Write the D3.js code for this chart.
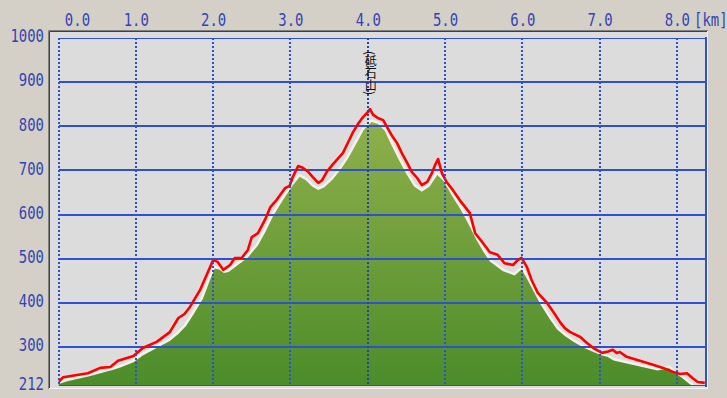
<!DOCTYPE html>
<html>
<head>
<meta charset="utf-8">
<script src="https://cdn.jsdelivr.net/npm/d3@7"></script>
<style>
  body { margin: 0; background: #d4d0c8; }
  svg { display: block; }
</style>
</head>
<body>
<div id="profile"></div>
<script>
// GPS track elevation (red line): distance in km, elevation in m
var trackKm = [0.00, 0.06, 0.24, 0.38, 0.54, 0.67, 0.77, 0.97, 1.09, 1.27,
  1.44, 1.55, 1.63, 1.70, 1.83, 1.96, 2.00, 2.06, 2.13, 2.22,
  2.28, 2.37, 2.45, 2.50, 2.58, 2.67, 2.74, 2.82, 2.93, 2.99,
  3.03, 3.10, 3.16, 3.23, 3.29, 3.36, 3.41, 3.47, 3.54, 3.60,
  3.68, 3.75, 3.81, 3.88, 3.94, 4.00, 4.03, 4.07, 4.13, 4.20,
  4.25, 4.31, 4.38, 4.44, 4.51, 4.57, 4.64, 4.70, 4.77, 4.83,
  4.87, 4.91, 4.96, 5.02, 5.10, 5.19, 5.32, 5.39, 5.49, 5.58,
  5.68, 5.77, 5.88, 5.94, 5.99, 6.06, 6.12, 6.20, 6.32, 6.40,
  6.49, 6.55, 6.62, 6.75, 6.84, 6.92, 7.03, 7.11, 7.17, 7.22,
  7.26, 7.35, 7.52, 7.69, 7.82, 7.95, 8.04, 8.13, 8.20, 8.27, 8.36];
var trackElev = [221, 232, 237, 241, 253, 255, 269, 280, 298, 312,
  334, 366, 375, 391, 429, 481, 497, 493, 475, 486,
  502, 502, 520, 549, 558, 588, 617, 633, 660, 665,
  685, 710, 706, 697, 685, 672, 678, 697, 712, 724,
  740, 765, 787, 807, 821, 832, 839, 826, 819, 814,
  798, 780, 762, 740, 717, 697, 683, 667, 674, 694,
  712, 726, 694, 674, 656, 633, 604, 558, 536, 515,
  509, 490, 486, 497, 502, 481, 452, 423, 400, 380,
  356, 343, 334, 323, 309, 298, 287, 290, 294, 287,
  289, 278, 269, 260, 253, 244, 239, 241, 230, 221, 219];

// terrain elevation (green area)
var groundKm = [0.00, 0.10, 0.24, 0.40, 0.54, 0.70, 0.80, 0.97, 1.09, 1.27,
  1.44, 1.55, 1.65, 1.75, 1.87, 1.96, 2.02, 2.08, 2.14, 2.20,
  2.30, 2.45, 2.58, 2.68, 2.78, 2.90, 3.02, 3.12, 3.20, 3.28,
  3.36, 3.44, 3.55, 3.65, 3.75, 3.85, 3.95, 4.05, 4.13, 4.22,
  4.30, 4.40, 4.50, 4.60, 4.70, 4.80, 4.90, 4.98, 5.10, 5.20,
  5.30, 5.40, 5.50, 5.58, 5.75, 5.90, 5.99, 6.06, 6.15, 6.23,
  6.35, 6.45, 6.55, 6.66, 6.80, 6.92, 7.03, 7.10, 7.18, 7.35,
  7.55, 7.75, 7.90, 7.98, 8.06, 8.15, 8.20];
var groundElev = [216, 222, 228, 234, 241, 248, 254, 266, 281, 298,
  314, 330, 348, 375, 410, 452, 478, 476, 468, 470,
  483, 503, 530, 562, 598, 632, 664, 686, 678, 664,
  656, 662, 680, 702, 728, 760, 792, 810, 806, 790,
  760, 725, 692, 664, 652, 664, 690, 676, 640, 612,
  580, 545, 515, 494, 472, 462, 476, 455, 425, 398,
  365, 340, 325, 312, 298, 289, 281, 278, 270, 263,
  255, 247, 252, 240, 231, 218, 212];

var yTicks = [212, 300, 400, 500, 600, 700, 800, 900, 1000];
var xTicks = [0, 1, 2, 3, 4, 5, 6, 7, 8];

// named point on the route
var pointKm = [4.0];
var pointNames = ["(砥石山)"];

var svgWidth = 727;
var svgHeight = 398;

var plot = { left: 58.5, right: 706, top: 38, bottom: 386 };

var gridColor = "#3050d4";
var textColor = "#3343b3";

var svg = d3.select("#profile")
  .append("svg")
  .attr("width", svgWidth)
  .attr("height", svgHeight);

var xScale = d3.scaleLinear()
  .domain([0, 8.376])
  .range([plot.left, plot.right]);

var yScale = d3.scaleLinear()
  .domain([212, 1000])
  .range([plot.bottom, plot.top]);

// sunken panel
svg.append("rect")
  .attr("x", 49)
  .attr("y", 31)
  .attr("width", 659)
  .attr("height", 358)
  .attr("fill", "#dcdcdc");

svg.append("path")
  .attr("d", "M48.5,389V30.5H708")
  .attr("fill", "none")
  .attr("stroke", "#808080");
svg.append("path")
  .attr("d", "M49.5,388V31.5H707")
  .attr("fill", "none")
  .attr("stroke", "#404040");
svg.append("path")
  .attr("d", "M707.5,31V388.5H49")
  .attr("fill", "none")
  .attr("stroke", "#f4f4f4");

var defs = svg.append("defs");

defs.append("clipPath")
  .attr("id", "plotClip")
  .append("rect")
  .attr("x", plot.left)
  .attr("y", plot.top)
  .attr("width", plot.right - plot.left)
  .attr("height", plot.bottom - plot.top);

var grad = defs.append("linearGradient")
  .attr("id", "greenFill")
  .attr("gradientUnits", "userSpaceOnUse")
  .attr("x1", 0).attr("y1", 120)
  .attr("x2", 0).attr("y2", plot.bottom);
grad.append("stop").attr("offset", 0).attr("stop-color", "#8fb04b");
grad.append("stop").attr("offset", 1).attr("stop-color", "#4c8c2a");

var chartGroup = svg.append("g")
  .attr("clip-path", "url(#plotClip)");

var ground = groundKm.map(function(d, i) { return [d, groundElev[i]]; });
var track = trackKm.map(function(d, i) { return [d, trackElev[i]]; });

var profileLine = d3.line()
  .x(d => xScale(d[0]))
  .y(d => yScale(d[1]));

var groundArea = d3.area()
  .x(d => xScale(d[0]))
  .y0(yScale(212))
  .y1(d => yScale(d[1]));

// light rim over the terrain
chartGroup.append("path")
  .datum(ground)
  .attr("d", profileLine)
  .attr("fill", "none")
  .attr("stroke", "#f2f2ea")
  .attr("stroke-width", 5)
  .attr("stroke-linejoin", "round");

chartGroup.append("path")
  .datum(ground)
  .attr("d", groundArea)
  .attr("fill", "url(#greenFill)");

// grid
chartGroup.selectAll(".hgrid")
  .data(yTicks)
  .enter()
  .append("line")
  .attr("x1", plot.left)
  .attr("x2", plot.right)
  .attr("y1", d => Math.round(yScale(d)))
  .attr("y2", d => Math.round(yScale(d)))
  .attr("stroke", gridColor)
  .attr("stroke-width", 2)
  .attr("shape-rendering", "crispEdges");

svg.selectAll(".vgrid")
  .data(xTicks)
  .enter()
  .append("line")
  .attr("x1", d => Math.round(xScale(d)))
  .attr("x2", d => Math.round(xScale(d)))
  .attr("y1", plot.top)
  .attr("y2", plot.bottom)
  .attr("stroke", gridColor)
  .attr("stroke-width", 2)
  .attr("stroke-dasharray", "2,2")
  .attr("shape-rendering", "crispEdges");

svg.append("line")
  .attr("x1", plot.right)
  .attr("x2", plot.right)
  .attr("y1", plot.top - 1)
  .attr("y2", plot.bottom + 1)
  .attr("stroke", gridColor)
  .attr("stroke-width", 2)
  .attr("shape-rendering", "crispEdges");

// point marker line
svg.selectAll(".pointLine")
  .data(pointKm)
  .enter()
  .append("line")
  .attr("x1", d => Math.round(xScale(d)))
  .attr("x2", d => Math.round(xScale(d)))
  .attr("y1", plot.top)
  .attr("y2", plot.bottom)
  .attr("stroke", "#2a3a70")
  .attr("stroke-opacity", 0.55)
  .attr("stroke-width", 2)
  .attr("stroke-dasharray", "2,2")
  .attr("shape-rendering", "crispEdges");

// GPS track
chartGroup.append("path")
  .datum(track)
  .attr("d", profileLine)
  .attr("fill", "none")
  .attr("stroke", "#ff0000")
  .attr("stroke-width", 2.6)
  .attr("stroke-linejoin", "round");

// y axis labels
var leftAxis = d3.axisLeft(yScale)
  .tickValues(yTicks)
  .tickFormat(d3.format("d"))
  .tickSize(0)
  .tickPadding(0);

var yAxis = svg.append("g")
  .attr("transform", "translate(44,0)")
  .call(leftAxis);
yAxis.select(".domain").remove();
yAxis.attr("font-family", "DejaVu Sans Mono")
  .attr("font-size", 17);
yAxis.selectAll("text")
  .attr("x", 0)
  .attr("dy", "0.22em")
  .attr("fill", textColor)
  .attr("transform", "scale(0.82,1)");

// x axis labels along the top
var topAxis = d3.axisTop(xScale)
  .tickValues(xTicks)
  .tickFormat(d3.format(".1f"))
  .tickSize(0)
  .tickPadding(0);

var xAxis = svg.append("g")
  .attr("transform", "translate(0,26)")
  .call(topAxis);
xAxis.select(".domain").remove();
xAxis.attr("font-family", "DejaVu Sans Mono")
  .attr("font-size", 17);
xAxis.selectAll("text")
  .attr("fill", textColor)
  .attr("x", d => d === 0 ? 22.5 : 0)
  .attr("transform", "scale(0.82,1)");

svg.append("text")
  .attr("transform", "translate(694,26) scale(0.82,1)")
  .attr("font-family", "DejaVu Sans Mono")
  .attr("font-size", 17)
  .attr("fill", textColor)
  .text("[km]");

// vertical point name
svg.selectAll(".pointName")
  .data(pointKm)
  .enter()
  .append("text")
  .attr("x", d => xScale(d) + 3)
  .attr("y", 51)
  .style("writing-mode", "vertical-rl")
  .attr("font-family", "Noto Sans CJK JP")
  .attr("font-size", 12)
  .attr("fill", "#111")
  .text((d, i) => pointNames[i]);
</script>
</body>
</html>
